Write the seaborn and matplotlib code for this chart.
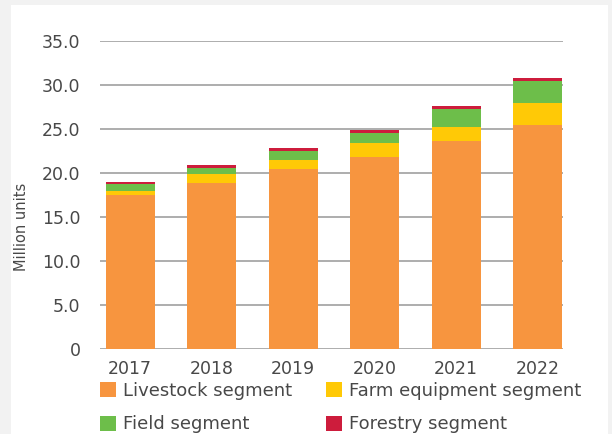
import matplotlib
matplotlib.use("Agg")
import matplotlib.pyplot as plt
import seaborn as sns
import numpy as np
import pandas as pd
from matplotlib.patches import Rectangle, Patch

years = ["2017", "2018", "2019", "2020", "2021", "2022"]
livestock = [17.5, 18.9, 20.5, 21.8, 23.6, 25.5]
farm_equipment = [0.5, 1.0, 1.0, 1.6, 1.6, 2.4]
field = [0.7, 0.7, 1.0, 1.2, 2.05, 2.6]
forestry = [0.3, 0.3, 0.3, 0.3, 0.35, 0.35]

series_names = ["Livestock segment", "Farm equipment segment", "Field segment", "Forestry segment"]
series_values = [livestock, farm_equipment, field, forestry]
colors = ["#F7953F", "#FFC906", "#6DBE4A", "#CD1C3C"]
y_ticks = [0, 5, 10, 15, 20, 25, 30, 35]
y_tick_labels = ["0", "5.0", "10.0", "15.0", "20.0", "25.0", "30.0", "35.0"]

sns.set_theme(style="white")
plt.rcParams["font.family"] = ["DejaVu Sans"]
text_color = "#484848"

W, H = 612, 434
fig = plt.figure(figsize=(W / 100, H / 100), dpi=100, facecolor="#f2f2f2")
fig.patches.append(Rectangle((11 / W, 0), (608 - 11) / W, (H - 5) / H,
                             transform=fig.transFigure, facecolor="white",
                             edgecolor="none", zorder=-1))

ax = fig.add_axes([100 / W, (H - 349) / H, (563 - 100) / W, (349 - 41) / H])
ax.set_facecolor("none")

df = pd.DataFrame({"year": years})
cum = np.zeros(len(years))
cums = []
for vals in series_values:
    cum = cum + np.array(vals)
    cums.append(cum.copy())

# draw from the top stack down so lower segments overlay
for i in reversed(range(len(series_values))):
    df["v"] = cums[i]
    sns.barplot(data=df, x="year", y="v", color=colors[i], saturation=1,
                width=0.6, linewidth=0, ax=ax, zorder=3)

ax.set_xlim(-0.37, 5.31)
ax.set_ylim(0, 35)
ax.set_yticks(y_ticks)
ax.set_yticklabels(y_tick_labels)
ax.grid(axis="y", color="#adadad", linewidth=1.4)
ax.grid(axis="x", visible=False)
ax.set_axisbelow(True)
for s in ax.spines.values():
    s.set_visible(False)
ax.tick_params(axis="y", length=0, pad=14, labelsize=12.5, labelcolor=text_color)
ax.tick_params(axis="x", length=0, pad=8, labelsize=12.5, labelcolor=text_color)
ax.set_xlabel("")
ax.set_ylabel("")

fig.text(22 / W, 1 - 227 / H, "Million units", rotation=90, ha="center", va="center",
         fontsize=10.5, color=text_color)

# legend filled column-wise: column 1 = Livestock, Field; column 2 = Farm equipment, Forestry
order = [0, 2, 1, 3]
handles = [Patch(facecolor=colors[i], edgecolor="none") for i in order]
labels = [series_names[i] for i in order]
leg = fig.legend(handles, labels, ncol=2, loc="upper left",
                 bbox_to_anchor=(100 / W, 1 - 382 / H), frameon=False,
                 fontsize=13, handlelength=0.9, handleheight=0.9,
                 handletextpad=0.35, columnspacing=1.9, labelspacing=0.85,
                 borderpad=0, borderaxespad=0)
for t in leg.get_texts():
    t.set_color(text_color)

fig.savefig("out.png", dpi=100, facecolor=fig.get_facecolor())
